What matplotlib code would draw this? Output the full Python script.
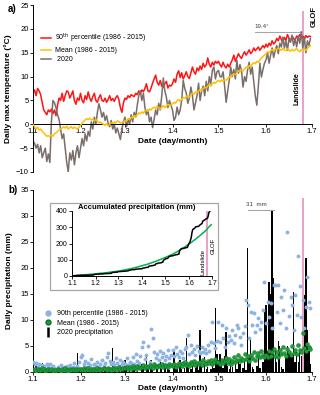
import numpy as np
import matplotlib
matplotlib.use('Agg')
import matplotlib.pyplot as plt
from matplotlib.patches import Rectangle
from matplotlib.lines import Line2D

plt.rcParams['font.family'] = ['Liberation Sans', 'DejaVu Sans']

# x axis: day of year 2020 (1 Jan = 0), ticks at first day of each month
tick_days = [0, 31, 60, 91, 121, 152, 182]
tick_labels = ['1.1', '1.2', '1.3', '1.4', '1.5', '1.6', '1.7']
event_day = 176  # landslide / GLOF

# daily max temperature (deg C), one line per month Jan..Jun
t90 = [6.5, 7.2, 6.0, 7.5, 7.0, 6.2, 4.5, 3.0, 2.5, 2.0, 3.0, 2.6, 3.2, 2.2, 3.0, 1.8, 4.0, 5.5, 5.0, 6.5, 4.8, 6.0, 7.0, 6.8, 5.5, 6.2, 7.0, 5.0, 4.2, 5.5, 5.0,
       6.5, 5.0, 4.5, 6.0, 5.2, 6.8, 5.5, 4.8, 5.8, 6.5, 5.0, 4.6, 5.6, 6.2, 5.0, 4.8, 5.5, 4.6, 5.2, 6.0, 5.0, 5.4, 4.8, 5.6, 6.0, 5.2, 3.5, 2.5, 4.5,
       5.5, 5.2, 6.0, 5.6, 6.2, 6.0, 5.8, 6.5, 6.2, 7.0, 6.4, 7.2, 6.8, 7.5, 8.5, 7.0, 6.8, 7.6, 8.6, 9.5, 10.3, 8.8, 8.2, 9.2, 8.0, 7.8, 8.5, 9.0, 7.6, 8.2, 8.0,
       8.5, 9.5, 8.8, 10.5, 11.2, 9.8, 10.8, 9.5, 10.2, 11.0, 10.0, 9.6, 10.8, 12.0, 11.0, 10.5, 11.8, 11.2, 12.2, 11.5, 12.8, 12.0, 12.5, 13.9, 12.6, 12.0, 13.0, 12.4, 13.2, 12.8,
       13.2, 12.5, 12.0, 13.0, 12.2, 11.8, 12.6, 12.0, 12.8, 13.5, 14.5, 13.2, 14.0, 14.8, 14.2, 13.8, 14.6, 15.2, 14.5, 15.0, 15.6, 14.8, 15.2, 16.0, 15.4, 15.8, 16.2, 15.5, 16.0, 16.5, 16.0,
       16.8, 16.2, 17.0, 16.5, 17.5, 16.8, 17.2, 18.0, 17.5, 18.5, 17.8, 17.2, 18.2, 17.6, 18.8, 18.0, 17.5, 18.4, 18.0, 17.6, 18.5, 18.2, 18.8, 18.0, 18.5, 17.8, 18.6, 18.2, 18.5, 18.4]

tmean = [0.0, -0.5, -1.0, -0.6, -1.2, -1.0, -1.5, -1.8, -2.2, -2.5, -2.4, -2.6, -2.2, -2.5, -2.0, -1.8, -1.5, -1.2, -1.0, -0.8, -0.5, -0.8, -0.4, -1.0, -0.7, -0.5, -0.9, -0.6, -0.8, -1.0, -0.6,
         -0.2, 0.2, 0.6, 0.9, 1.2, 1.0, 1.3, 0.9, 1.1, 0.7, 1.0, 0.6, 0.3, 0.5, 0.2, 0.0, -0.2, 0.1, -0.3, 0.0, 0.3, 0.2, 0.5, 0.3, 0.7, 0.6, 0.2, 0.4, 0.5,
         0.8, 0.6, 1.2, 1.0, 1.5, 1.3, 1.8, 1.6, 2.0, 2.4, 2.2, 2.6, 2.3, 2.8, 3.0, 2.7, 3.2, 3.0, 3.4, 3.6, 3.3, 3.8, 3.5, 3.2, 3.6, 3.9, 3.5, 3.8, 4.2, 3.9, 4.0,
         4.3, 4.6, 4.4, 5.0, 5.2, 4.8, 5.3, 5.6, 5.4, 5.8, 6.0, 5.7, 6.2, 6.5, 6.3, 6.8, 6.6, 7.0, 7.3, 7.0, 7.5, 7.8, 7.6, 8.0, 8.3, 8.0, 8.5, 8.8, 8.6, 9.0,
         9.2, 8.9, 9.3, 9.0, 9.4, 9.2, 9.6, 10.0, 9.8, 10.3, 10.6, 10.4, 10.8, 11.2, 11.0, 11.4, 11.2, 11.6, 12.0, 11.8, 12.3, 12.1, 12.6, 12.9, 12.7, 13.2, 13.0, 13.5, 13.9, 14.2, 14.5,
         14.8, 15.2, 15.0, 15.4, 15.6, 15.3, 15.8, 15.6, 16.0, 15.7, 15.5, 15.9, 15.6, 15.4, 15.8, 15.5, 15.3, 15.7, 15.4, 15.6, 15.9, 15.5, 15.2, 15.6, 15.4, 15.8, 15.5, 15.9, 16.2, 16.5]

t2020 = [-3.5, -4.0, -5.0, -4.2, -6.0, -4.5, -7.0, -6.0, -5.0, -7.8, -6.2, -8.0, 0.5, 5.0, 4.5, 3.5, 2.0, 1.0, -1.0, -3.0, -2.0, -5.0, -8.0, -10.0, -6.0, -7.5, -5.5, -8.5, -6.0, -4.5, -7.0,
         -5.0, -3.0, -4.5, -2.0, -3.5, -1.5, -2.5, 0.5, -1.0, 1.5, 0.0, 2.5, 4.3, 3.0, 1.5, 2.5, 0.8, 1.8, 0.2, -0.5, 0.8, -1.0, 0.0, -1.8, -0.8, -2.0, -3.2, -1.0, 0.5,
         1.5, -0.5, 1.0, 0.0, 2.0, 0.5, 2.5, 1.5, 4.0, 6.0, 7.0, 5.0, 6.5, 3.5, 2.0, 3.0, 0.5, 1.5, -0.7, 1.0, 3.0, 2.0, 4.4, 3.0, 6.0, 9.7, 7.0, 5.7, 3.5, 5.0, 4.0,
         3.0, 0.8, 1.5, 3.6, 2.0, 3.0, 5.0, 9.2, 7.5, 6.5, 4.4, 5.5, 7.8, 6.0, 3.0, 4.5, 6.0, 8.6, 5.0, 7.0, 8.0, 6.0, 9.0, 7.0, 10.0, 8.5, 11.3, 12.0, 9.5, 11.0,
         11.3, 10.0, 9.9, 11.0, 8.0, 4.6, 7.0, 9.2, 12.0, 10.0, 11.5, 9.5, 13.4, 10.7, 12.5, 11.3, 7.8, 10.0, 9.0, 11.5, 13.0, 10.5, 12.0, 9.0, 6.0, 4.0, 8.0, 12.8, 9.9, 11.5, 12.8,
         13.5, 15.0, 12.8, 14.5, 16.0, 14.0, 15.5, 16.5, 14.8, 17.0, 16.2, 18.3, 16.0, 17.5, 15.5, 18.0, 17.2, 18.7, 16.5, 17.8, 16.2, 18.5, 17.0, 19.4, 16.0, 18.3, 15.0, 17.5, 16.5, 18.0]

# daily precipitation (mm)
p2020 = [0, 0, 1.2, 0.8, 0, 0, 1.7, 0.3, 0, 0, 0, 0.5, 0, 0, 0, 0, 0.2, 0, 0, 0.4, 0, 0, 0, 0, 0.3, 0, 0, 0.6, 0, 3.6, 0.8,
         0, 0.3, 0.8, 0, 0.5, 0, 0.6, 0, 0.2, 0, 0.4, 1.2, 0, 0, 0.6, 0, 0.5, 0, 0.3, 0, 0.4, 4.6, 1.0, 0, 0.6, 0.4, 0, 0.8, 0.5,
         2.3, 0.5, 0, 0.8, 0, 0.4, 1.0, 0, 0.6, 0, 0, 1.5, 0.5, 0, 3.3, 1.2, 0, 2.3, 0.4, 0, 0, 0.8, 0, 2.3, 0.5, 0, 1.0, 0, 0.6, 0.3, 0,
         0, 4.2, 0.5, 1.0, 0, 2.3, 0.6, 0, 0.8, 6.5, 1.5, 0, 0.5, 1.8, 0, 0.7, 2.0, 0.4, 8.0, 1.2, 0, 2.9, 0.5, 1.0, 0, 0.6, 2.5, 0.8, 12.3, 3.5,
         2.3, 3.5, 1.5, 0.8, 3.0, 7.7, 1.2, 0.5, 2.5, 1.0, 0, 2.0, 0.6, 2.5, 1.5, 0, 0.8, 2.5, 0.4, 23.8, 3.0, 6.5, 1.0, 0.5, 0, 1.2, 2.7, 0.8, 0, 2.0, 11.5,
         12.9, 4.0, 17.3, 15.0, 31.0, 18.0, 4.0, 2.0, 6.0, 5.0, 1.0, 0.5, 0, 3.0, 5.0, 4.0, 3.0, 3.3, 15.4, 2.0, 4.0, 2.0, 4.5, 3.0, 0, 14.8, 22.0, 8.0, 4.0, 1.5]

p90 = [2.0, 1.5, 1.8, 1.0, 1.6, 0.8, 1.4, 1.2, 0.6, 1.5, 1.0, 1.6, 0.5, 1.2, 0.8, 0.4, 1.0, 0.6, 1.3, 0.5, 0.9, 0.3, 1.1, 0.7, 1.4, 0.6, 1.0, 1.8, 0.8, 1.2, 2.0,
       2.8, 3.2, 1.5, 2.2, 1.0, 1.8, 1.3, 2.5, 0.8, 1.6, 1.2, 2.0, 1.0, 1.5, 2.4, 1.2, 1.8, 2.8, 3.6, 2.2, 1.5, 2.0, 1.3, 2.6, 1.8, 1.2, 2.4, 1.5, 2.0,
       1.5, 2.6, 1.3, 2.0, 1.8, 2.8, 1.6, 3.5, 2.2, 1.8, 3.0, 4.8, 5.8, 2.5, 3.2, 5.0, 2.0, 8.3, 6.5, 3.8, 2.6, 3.4, 2.3, 4.0, 2.8, 3.6, 2.4, 3.0, 4.2, 2.7, 3.3,
       4.2, 3.0, 4.8, 3.4, 2.9, 4.0, 3.6, 2.7, 4.4, 4.8, 7.1, 3.5, 5.2, 3.8, 4.5, 3.2, 5.0, 4.1, 3.6, 4.8, 3.9, 4.4, 3.6, 5.2, 4.0, 5.8, 9.6, 5.5, 4.6, 6.0,
       9.6, 5.8, 9.0, 6.5, 4.8, 8.5, 5.8, 7.0, 6.2, 8.0, 5.5, 7.2, 9.0, 8.5, 6.8, 5.2, 7.5, 8.8, 13.8, 12.9, 6.5, 11.5, 9.0, 11.3, 7.6, 9.0, 10.4, 8.2, 9.6, 12.0, 17.3,
       9.5, 13.5, 10.5, 13.3, 8.5, 16.7, 16.7, 11.5, 16.7, 9.5, 14.4, 12.0, 15.8, 8.5, 27.0, 10.8, 14.4, 12.9, 8.0, 14.8, 11.0, 22.3, 16.5, 10.5, 13.8, 8.5, 12.5, 18.3, 13.5, 12.3]

pmean = [0.3, 0.5, 0.2, 0.6, 0.4, 0.3, 0.7, 0.5, 0.2, 0.4, 0.6, 0.3, 0.5, 0.2, 0.4, 0.3, 0.6, 0.4, 0.2, 0.5, 0.3, 0.7, 0.4, 0.2, 0.5, 0.3, 0.6, 0.4, 0.5, 0.3, 0.6,
         0.5, 0.4, 0.7, 0.3, 0.6, 0.8, 0.4, 0.5, 0.3, 0.6, 0.4, 0.7, 0.5, 0.3, 0.6, 0.8, 0.5, 0.4, 0.7, 0.6, 0.3, 0.8, 0.5, 0.7, 0.4, 0.9, 0.6, 0.5, 0.8,
         0.7, 1.0, 0.6, 0.9, 0.5, 1.1, 0.8, 0.6, 1.2, 0.9, 0.7, 1.0, 1.3, 0.8, 1.1, 0.9, 1.4, 1.0, 0.8, 1.5, 1.2, 0.9, 1.3, 1.1, 1.6, 1.0, 1.4, 1.2, 0.9, 1.5, 1.3,
         1.2, 1.6, 1.0, 1.4, 1.8, 1.3, 1.1, 1.7, 2.0, 1.4, 1.6, 1.2, 1.9, 1.5, 2.2, 1.3, 1.8, 1.6, 2.0, 1.4, 2.3, 1.7, 1.5, 2.1, 1.8, 2.4, 1.6, 2.0, 2.5, 1.9,
         1.9, 1.5, 2.3, 1.7, 2.1, 2.7, 1.8, 2.5, 1.6, 2.2, 2.9, 2.0, 2.4, 3.2, 2.1, 2.7, 2.3, 3.5, 2.5, 3.0, 2.2, 3.3, 2.7, 3.9, 2.4, 3.1, 3.6, 2.8, 4.1, 3.3, 2.9,
         3.2, 2.8, 4.0, 3.0, 3.8, 4.4, 3.1, 3.9, 2.9, 4.2, 3.4, 4.8, 3.6, 3.0, 4.5, 3.9, 3.3, 5.0, 3.7, 4.3, 3.5, 5.2, 4.2, 3.8, 7.5, 4.7, 4.0, 5.4, 4.9, 4.4]

days = np.arange(len(t90))
pink = '#e9a3c9'
W, H = 320, 395

fig = plt.figure(figsize=(3.2, 3.95), dpi=100)

# ---------------- a) temperature ----------------
ax1 = fig.add_axes([33 / W, 1 - 172 / H, 279 / W, 167 / H])
ax1.axvspan(event_day - 0.8, event_day + 0.8, ymin=10 / 35, ymax=33.8 / 35, color=pink, lw=0, zorder=0.5)
ax1.plot(days, t90, color='#ff1414', lw=1.1, label='90$^{\\rm th}$ percentile (1986 - 2015)', zorder=2)
ax1.plot(days, tmean, color='#ffc000', lw=1.1, label='Mean (1986 - 2015)', zorder=3)
ax1.plot(days, t2020, color='#7a6e6b', lw=1.1, label=' 2020', zorder=2.5)
ax1.set_xlim(0, 182)
ax1.set_ylim(-10, 25)
ax1.set_yticks(range(-10, 26, 5))
ax1.set_xticks(tick_days)
ax1.set_xticklabels(tick_labels)
for s in ['top', 'right']:
    ax1.spines[s].set_visible(False)
ax1.spines['bottom'].set_position(('data', 0))
for s in ['bottom', 'left']:
    ax1.spines[s].set_linewidth(0.7)
ax1.tick_params(labelsize=5.5, length=2, width=0.6, pad=1)
ax1.set_ylabel('Daily max temperature (°C)', fontsize=6, fontweight='bold', labelpad=3)
ax1.set_xlabel('Date (day/month)', fontsize=6, fontweight='bold', labelpad=2)
ax1.legend(loc='upper left', bbox_to_anchor=(0.03, 0.84), fontsize=5, frameon=False,
           handlelength=1.4, handletextpad=0.5, labelspacing=0.3, borderpad=0, borderaxespad=0)
ax1.plot([145, event_day - 0.5], [19.4, 19.4], color='#a6a6a6', lw=0.8)
ax1.text(149, 19.9, '19.4°', fontsize=4.5, ha='center', va='bottom', color='#404040')
ax1.text(event_day - 1.2, 7.5, 'Landslide', rotation=90, fontsize=5, fontweight='bold', ha='right', va='center')
ax1.text(183.5, 22.5, 'GLOF', rotation=90, fontsize=5.5, fontweight='bold', ha='center', va='center')
fig.text(8 / W, 1 - 9 / H, 'a)', fontsize=7, fontweight='bold', ha='left', va='center')

# ---------------- b) precipitation ----------------
ax2 = fig.add_axes([33 / W, 1 - 372 / H, 279 / W, 182 / H])
ax2.axvspan(event_day - 0.8, event_day + 0.8, ymin=0, ymax=33.5 / 35, color=pink, lw=0, zorder=0.5)
ax2.bar(days, p2020, width=0.9, color='black', zorder=2)
ax2.scatter(days, p90, s=8, color='#8db3e2', lw=0, zorder=3)
ax2.scatter(days, pmean, s=8, color='#1f9e3a', edgecolor='#0b6b22', lw=0.3, zorder=4)
ax2.set_xlim(0, 182)
ax2.set_ylim(0, 35)
ax2.set_yticks(range(0, 36, 5))
ax2.set_xticks(tick_days)
ax2.set_xticklabels(tick_labels)
for s in ['top', 'right']:
    ax2.spines[s].set_visible(False)
for s in ['bottom', 'left']:
    ax2.spines[s].set_linewidth(0.7)
ax2.tick_params(labelsize=5.5, length=2, width=0.6, pad=1)
ax2.set_ylabel('Daily precipitation (mm)', fontsize=6, fontweight='bold', labelpad=5)
ax2.set_xlabel('Date (day/month)', fontsize=6, fontweight='bold', labelpad=1)
handles = [Line2D([], [], marker='o', ls='none', color='#8db3e2', markersize=3.5),
           Line2D([], [], marker='o', ls='none', color='#1f9e3a', markeredgecolor='#0b6b22', markersize=3.5),
           Line2D([], [], marker='|', ls='none', color='black', markersize=7, markeredgewidth=1.8)]
ax2.legend(handles, ['90th percentile (1986 - 2015)', 'Mean (1986 - 2015)', '2020 precipitation'],
           loc='upper left', bbox_to_anchor=(0.04, 0.34), fontsize=5, frameon=False,
           handlelength=1.0, handletextpad=0.8, labelspacing=0.35, borderpad=0, borderaxespad=0)
ax2.plot([140, 157.5], [31.2, 31.2], color='#a6a6a6', lw=0.8)
ax2.text(146, 31.7, '31  mm', fontsize=4.5, ha='center', va='bottom', color='#404040')
fig.text(8 / W, 1 - 190 / H, 'b)', fontsize=7, fontweight='bold', ha='left', va='center')

# inset: accumulated precipitation
box = Rectangle((50 / W, 1 - 290 / H), 168 / W, 87 / H, transform=fig.transFigure,
                fc='white', ec='#a6a6a6', lw=0.9, zorder=1)
fig.add_artist(box)
ax3 = fig.add_axes([72 / W, 1 - 276 / H, 140 / W, 65 / H])
ax3.set_zorder(2)
ax3.axvline(event_day, color=pink, lw=1.5, zorder=1)
ax3.plot(days, np.cumsum(pmean), color='#00b050', lw=1.1, zorder=2)
ax3.plot(days, np.cumsum(p2020), color='black', lw=1.1, zorder=3)
ax3.set_xlim(0, 182)
ax3.set_ylim(0, 400)
ax3.set_yticks(range(0, 401, 100))
ax3.set_xticks(tick_days)
ax3.set_xticklabels(tick_labels)
for s in ['top', 'right']:
    ax3.spines[s].set_visible(False)
for s in ['bottom', 'left']:
    ax3.spines[s].set_linewidth(0.7)
ax3.tick_params(labelsize=5, length=2, width=0.6, pad=1)
ax3.text(0.04, 1.05, 'Accumulated precipitation (mm)', transform=ax3.transAxes,
         fontsize=5.5, fontweight='bold', ha='left', va='center')
ax3.text(event_day - 3, 85, 'Landslide', rotation=90, fontsize=4.3, ha='right', va='center')
ax3.text(event_day + 8, 185, 'GLOF', rotation=90, fontsize=4.3, ha='center', va='center')

fig.savefig('out.png', dpi=100)
